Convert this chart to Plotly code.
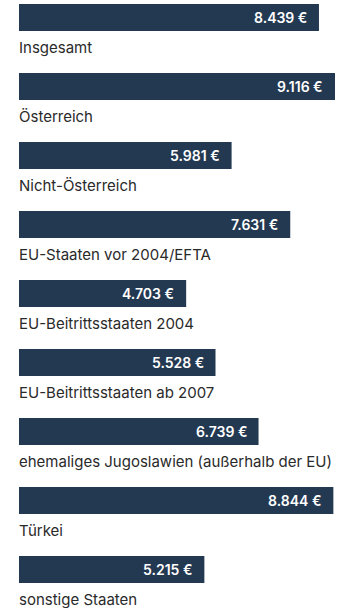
import plotly.graph_objects as go

# Durchschnittliche Werte je Herkunftsgruppe (in Euro)
categories = [
    "Insgesamt",
    "Österreich",
    "Nicht-Österreich",
    "EU-Staaten vor 2004/EFTA",
    "EU-Beitrittsstaaten 2004",
    "EU-Beitrittsstaaten ab 2007",
    "ehemaliges Jugoslawien (außerhalb der EU)",
    "Türkei",
    "sonstige Staaten",
]
values = [8439, 9116, 5981, 7631, 4703, 5528, 6739, 8844, 5215]

BAR_COLOR = "#233952"
LABEL_COLOR = "#2a2a2a"
FONT = "Inter, Lato, sans-serif"
X_MAX = 8890


def fmt_euro(v):
    return f"{v:,}".replace(",", ".") + " €"


fig = go.Figure(
    go.Bar(
        x=values,
        y=categories,
        orientation="h",
        marker=dict(color=BAR_COLOR, line=dict(width=0)),
        width=0.39,
        hoverinfo="skip",
    )
)

annotations = []
for cat, v in zip(categories, values):
    # Wert rechts im Balken
    annotations.append(dict(
        x=min(v, X_MAX), y=cat, xref="x", yref="y",
        text=fmt_euro(v), showarrow=False,
        xanchor="right", yanchor="middle", xshift=-10,
        font=dict(family=FONT, size=14, color="white", weight=600),
    ))
    # Kategoriebezeichnung unter dem Balken
    annotations.append(dict(
        x=0, y=cat, xref="x", yref="y",
        text=cat, showarrow=False,
        xanchor="left", yanchor="middle", yshift=-29.5, xshift=-2,
        font=dict(family=FONT, size=15, color=LABEL_COLOR),
    ))

fig.update_layout(
    width=339, height=608,
    margin=dict(l=19, r=4, t=0, b=0),
    paper_bgcolor="white", plot_bgcolor="white",
    showlegend=False,
    xaxis=dict(range=[0, X_MAX], visible=False, fixedrange=True),
    yaxis=dict(type="category", categoryorder="array", categoryarray=categories,
               range=[8.558, -0.254], visible=False, fixedrange=True),
    annotations=annotations,
)

fig.write_html("out.html")
